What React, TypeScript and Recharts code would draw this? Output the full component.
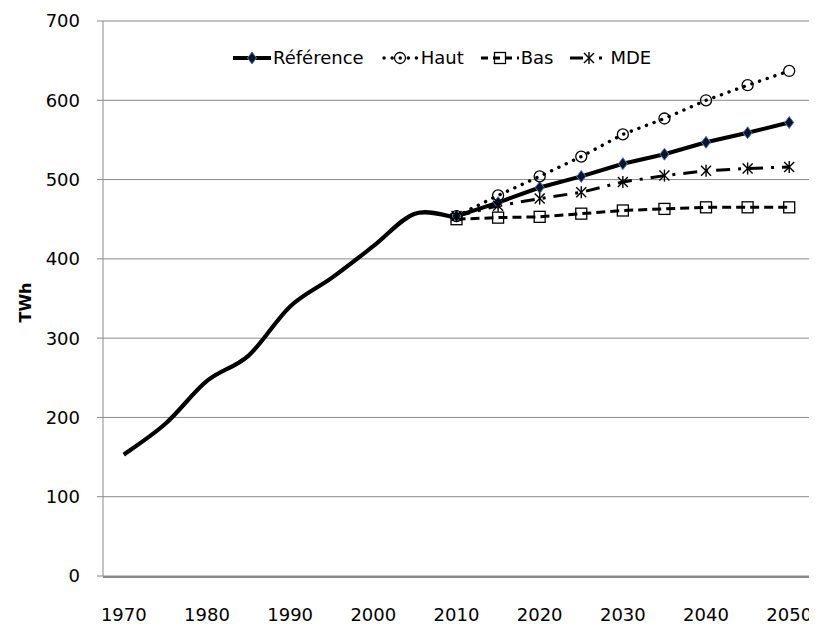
import React from 'react';
import { LineChart, Line, XAxis, YAxis, CartesianGrid } from 'recharts';

// years on the category axis (one every 5 years)
const YEARS = [1970, 1975, 1980, 1985, 1990, 1995, 2000, 2005, 2010, 2015, 2020, 2025, 2030, 2035, 2040, 2045, 2050];
const HISTORIQUE = [153, 192, 246, 278, 340, 376, 416, 457, 452, null, null, null, null, null, null, null, null];
const REFERENCE = [null, null, null, null, null, null, null, null, 454, 471, 490, 504, 520, 532, 547, 559, 572];
const HAUT = [null, null, null, null, null, null, null, null, 454, 480, 504, 529, 557, 577, 600, 619, 637];
const BAS = [null, null, null, null, null, null, null, null, 450, 452, 453, 457, 461, 463, 465, 465, 465];
const MDE = [null, null, null, null, null, null, null, null, 454, 467, 476, 484, 497, 505, 511, 514, 516];

const X_LABELS = [1970, 1980, 1990, 2000, 2010, 2020, 2030, 2040, 2050];
const Y_TICKS = [0, 100, 200, 300, 400, 500, 600, 700];

const data = YEARS.map((year, i) => ({
    year,
    historique: HISTORIQUE[i],
    reference: REFERENCE[i],
    haut: HAUT[i],
    bas: BAS[i],
    mde: MDE[i],
}));

// tick marks sit between the categories, like an Excel category axis
const STEP = YEARS[1] - YEARS[0];
const BOUNDARIES = [...YEARS.map((y) => y - STEP / 2), YEARS[YEARS.length - 1] + STEP / 2];
const X_DOMAIN = [BOUNDARIES[0], BOUNDARIES[BOUNDARIES.length - 1]];

const GRID = '#898989';
const FONT = 'DejaVu Sans';

// Excel-like smoothing (Catmull-Rom through the points)
const excelSmooth = (context: any) => {
    let pts: number[][] = [];
    return {
        areaStart() {},
        areaEnd() {},
        lineStart() {
            pts = [];
        },
        point(x: number, y: number) {
            pts.push([+x, +y]);
        },
        lineEnd() {
            if (!pts.length) return;
            context.moveTo(pts[0][0], pts[0][1]);
            for (let i = 0; i < pts.length - 1; i++) {
                const p0 = pts[i - 1] || pts[i];
                const p1 = pts[i];
                const p2 = pts[i + 1];
                const p3 = pts[i + 2] || p2;
                context.bezierCurveTo(
                    p1[0] + (p2[0] - p0[0]) / 6,
                    p1[1] + (p2[1] - p0[1]) / 6,
                    p2[0] - (p3[0] - p1[0]) / 6,
                    p2[1] - (p3[1] - p1[1]) / 6,
                    p2[0],
                    p2[1]
                );
            }
        },
    };
};

const Diamond = ({ cx, cy }: { cx: number; cy: number }) => (
    <path d={`M${cx},${cy - 6}L${cx + 4.5},${cy}L${cx},${cy + 6}L${cx - 4.5},${cy}Z`} fill="#11112a" stroke="#4a7ebb" strokeWidth={1} />
);
const Ring = ({ cx, cy }: { cx: number; cy: number }) => (
    <circle cx={cx} cy={cy} r={5.5} fill="none" stroke="#000" strokeWidth={1.3} />
);
const Square = ({ cx, cy }: { cx: number; cy: number }) => (
    <rect x={cx - 5.5} y={cy - 5.5} width={11} height={11} fill="none" stroke="#000" strokeWidth={1.3} />
);
const Star = ({ cx, cy }: { cx: number; cy: number }) => (
    <g stroke="#000" strokeWidth={1.4}>
        <line x1={cx - 5} y1={cy - 5} x2={cx + 5} y2={cy + 5} />
        <line x1={cx - 5} y1={cy + 5} x2={cx + 5} y2={cy - 5} />
        <line x1={cx} y1={cy - 6} x2={cx} y2={cy + 6} />
    </g>
);

const marker = (Shape: any) => (props: any) => {
    const { cx, cy, value, index } = props;
    if (value == null || cx == null || cy == null) return <g key={`m-${index}`} />;
    return <Shape key={`m-${index}`} cx={cx} cy={cy} />;
};

const SERIES = [
    { key: 'reference', name: 'Référence', width: 4, dash: undefined, cap: 'butt', Shape: Diamond },
    { key: 'haut', name: 'Haut', width: 3.4, dash: '0.1 8', cap: 'round', Shape: Ring },
    { key: 'bas', name: 'Bas', width: 3, dash: '9 5', cap: 'butt', Shape: Square },
    { key: 'mde', name: 'MDE', width: 3, dash: '14 8 3 8', cap: 'butt', Shape: Star },
];

const LegendIcon = ({ s }: { s: (typeof SERIES)[number] }) => (
    <svg width={38} height={16} style={{ display: 'block' }}>
        {s.key === 'mde' ? (
            <g stroke="#000" strokeWidth={s.width}>
                <line x1={0} y1={8} x2={13} y2={8} />
                <line x1={29} y1={8} x2={32} y2={8} />
            </g>
        ) : (
            <line x1={s.key === 'haut' ? 3 : 0} y1={8} x2={38} y2={8} stroke="#000" strokeWidth={s.width} strokeDasharray={s.key === 'bas' ? '7 5' : s.dash} strokeLinecap={s.cap as any} />
        )}
        <s.Shape cx={19} cy={8} />
    </svg>
);

const AxisTitle = (props: any) => {
    const vb = props.viewBox || { y: 13, height: 555 };
    const x = 17;
    const y = vb.y + vb.height / 2 + 4;
    return (
        <text x={x} y={y} transform={`rotate(-90 ${x} ${y})`} textAnchor="middle" dominantBaseline="central" fontFamily={FONT} fontWeight="bold" fontSize={16} fill="#000">
            TWh
        </text>
    );
};

const tickStyle = { fill: '#000', fontSize: 18, fontFamily: FONT };

export default function App() {
    return (
        <div style={{ position: 'relative', width: 809, height: 617, fontFamily: FONT }}>
            <LineChart width={809} height={617} data={data} margin={{ top: 13, right: 7, bottom: 47, left: 35 }}>
                <CartesianGrid vertical={false} stroke={GRID} xAxisId="labels" />
                <XAxis
                    xAxisId="marks"
                    dataKey="year"
                    type="number"
                    domain={X_DOMAIN}
                    ticks={BOUNDARIES}
                    interval={0}
                    height={1}
                    tick={false}
                    tickSize={6}
                    tickLine={{ stroke: GRID }}
                    axisLine={{ stroke: GRID, strokeWidth: 2 }}
                />
                <XAxis
                    xAxisId="labels"
                    dataKey="year"
                    type="number"
                    domain={X_DOMAIN}
                    ticks={X_LABELS}
                    interval={0}
                    height={1}
                    axisLine={false}
                    tickLine={false}
                    tickSize={0}
                    tickMargin={32}
                    tick={tickStyle}
                />
                <YAxis
                    type="number"
                    domain={[0, 700]}
                    ticks={Y_TICKS}
                    interval={0}
                    width={60}
                    tickSize={6}
                    tickMargin={17}
                    tick={tickStyle}
                    tickLine={{ stroke: GRID }}
                    axisLine={{ stroke: GRID }}
                    label={<AxisTitle />}
                />
                <Line
                    xAxisId="labels"
                    dataKey="historique"
                    type={excelSmooth as any}
                    stroke="#000"
                    strokeWidth={4.2}
                    dot={false}
                    activeDot={false}
                    isAnimationActive={false}
                />
                {SERIES.map((s) => (
                    <Line
                        key={s.key}
                        xAxisId="labels"
                        dataKey={s.key}
                        name={s.name}
                        type="linear"
                        stroke="#000"
                        strokeWidth={s.width}
                        strokeDasharray={s.dash}
                        strokeLinecap={s.cap as any}
                        dot={marker(s.Shape)}
                        activeDot={false}
                        isAnimationActive={false}
                    />
                ))}
            </LineChart>
            <div style={{ position: 'absolute', left: 225, top: 39, display: 'flex', alignItems: 'center', fontSize: 18, lineHeight: '22px', color: '#000' }}>
                {SERIES.map((s) => (
                    <div key={s.key} style={{ display: 'flex', alignItems: 'center', marginRight: 17 }}>
                        <LegendIcon s={s} />
                        <span style={{ marginLeft: 2 }}>{s.name}</span>
                    </div>
                ))}
            </div>
        </div>
    );
}
